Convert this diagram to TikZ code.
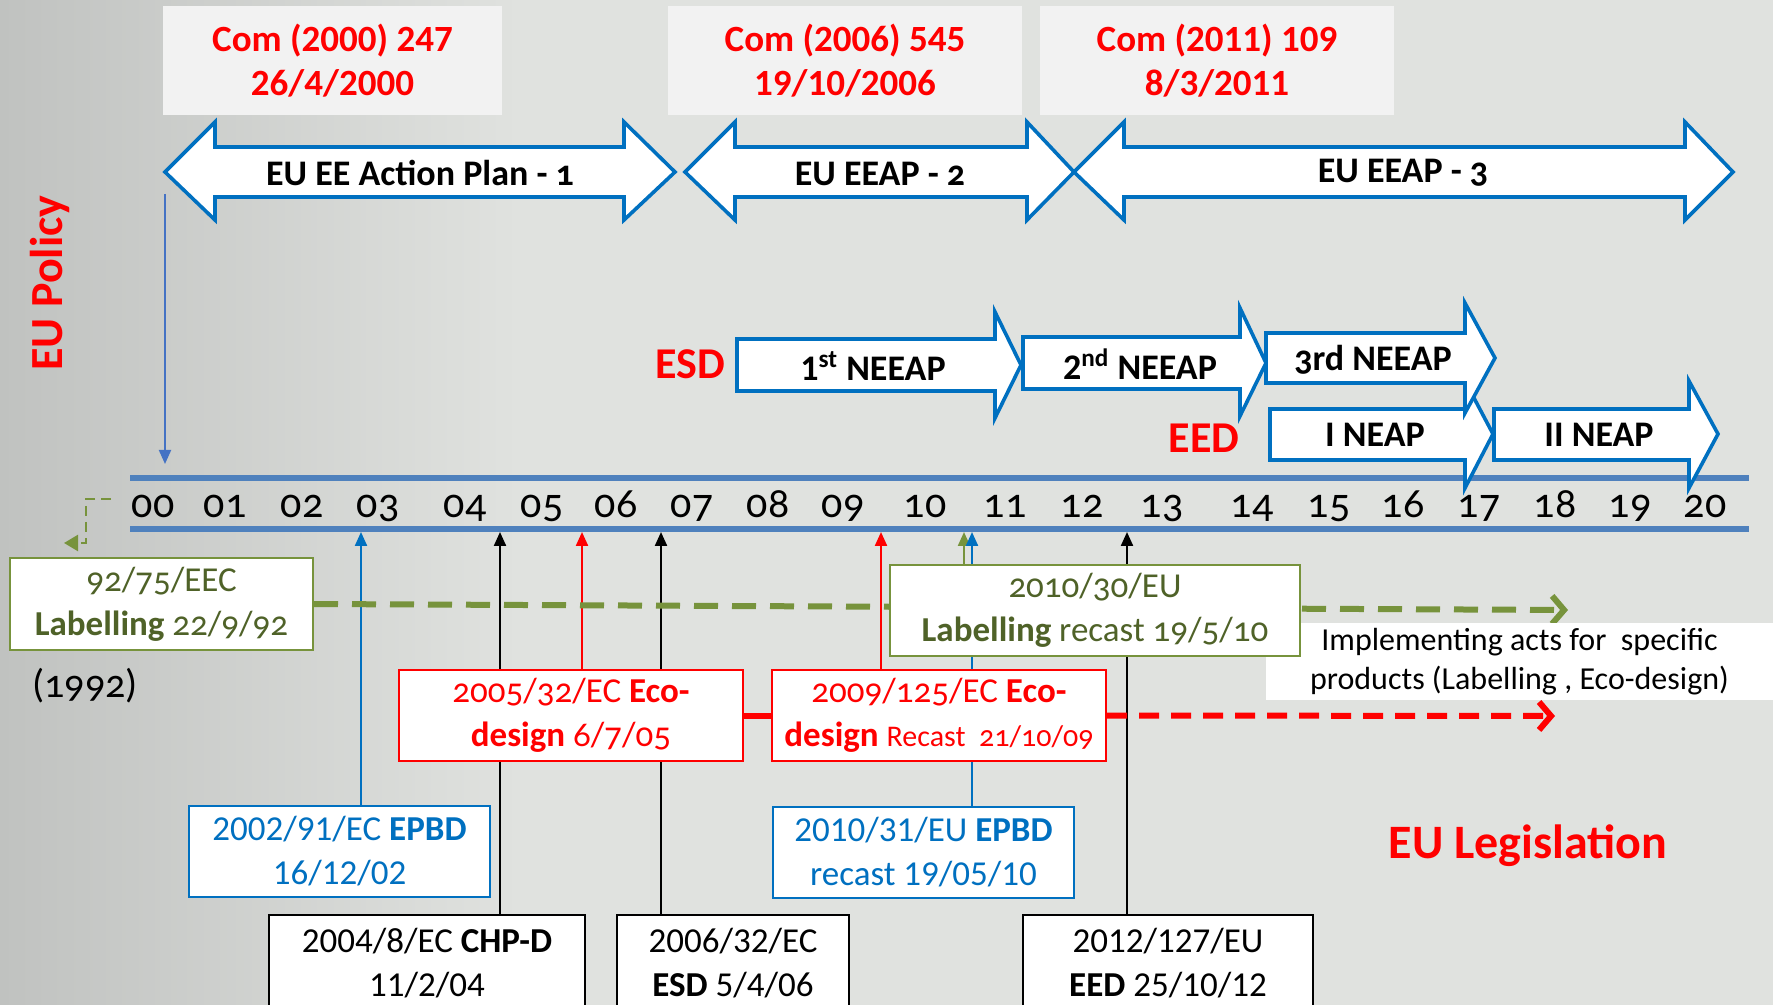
\documentclass[tikz,border=0pt]{standalone}
\usepackage{fontspec}
\setmainfont{Carlito}
\newfontfamily\osf{Carlito}[Numbers=OldStyle]
\usetikzlibrary{arrows.meta}
\definecolor{arrblue}{RGB}{0,112,192}
\definecolor{tlblue}{RGB}{79,129,189}
\definecolor{downblue}{RGB}{68,114,196}
\definecolor{olivel}{RGB}{119,147,60}
\definecolor{olivet}{RGB}{79,98,40}
\definecolor{boxgray}{RGB}{242,242,242}
\definecolor{bgA}{RGB}{192,194,192}
\definecolor{bgB}{RGB}{224,226,223}
\definecolor{redc}{RGB}{255,0,0}
\pgfdeclarelayer{back}
\pgfdeclarelayer{lines}
\pgfsetlayers{back,lines,main}
\begin{document}
\begin{tikzpicture}[x=0.5pt,y=-0.5pt,
  topbox/.style={fill=boxgray,draw=none,inner sep=0pt,minimum height=54.5pt,align=center,text=redc,font=\bfseries\fontsize{18.5}{22}\selectfont},
  lawbox/.style={fill=white,line width=1pt,inner sep=0pt,minimum height=45.5pt,align=center,font=\fontsize{17.5}{22}\selectfont},
  greenbox/.style={lawbox,draw=olivel,text=olivet,font=\osf\fontsize{17.5}{22}\selectfont},
  redbox/.style={lawbox,draw=redc,text=redc,font=\osf\fontsize{17.5}{22}\selectfont},
  bluebox/.style={lawbox,draw=arrblue,text=arrblue},
  blackbox/.style={lawbox,draw=black,text=black,minimum height=48.5pt},
  bigarrow/.style={draw=arrblue,fill=white,line width=1.8pt,line join=miter},
  arrlabel/.style={inner sep=0pt,font=\bfseries\fontsize{18}{20}\selectfont},
  year/.style={anchor=base,inner sep=0pt,font=\osf\fontsize{21}{24}\selectfont},
  conn/.style={line width=1.1pt,-{Triangle[length=7pt,width=6pt]}},
  redlabel/.style={inner sep=0pt,text=redc,font=\bfseries\fontsize{22}{24}\selectfont},
  tline/.style={draw=tlblue,line width=3pt}
]
\useasboundingbox (0,0) rectangle (1773,1005);
% background
\begin{pgfonlayer}{back}
\fill[bgB] (0,0) rectangle (1773,1005);
\shade[left color=bgA,right color=bgB] (0,0) rectangle (520,1005);
\end{pgfonlayer}

% top boxes
\node[topbox,minimum width=169.5pt] (com1) at (332.5,60.5) {Com (2000) 247\\26/4/2000};
\node[topbox,minimum width=177pt] (com2) at (845,60.5) {Com (2006) 545\\19/10/2006};
\node[topbox,minimum width=177pt] (com3) at (1217,60.5) {Com (2011) 109\\8/3/2011};

% double arrows
\draw[bigarrow] (165,172) -- (215,122) -- (215,147) -- (624,147) -- (624,122) -- (675,172) -- (624,220) -- (624,197) -- (215,197) -- (215,220) -- cycle;
\draw[bigarrow] (685,172) -- (735,122) -- (735,147) -- (1027,147) -- (1027,122) -- (1074,172) -- (1027,220) -- (1027,197) -- (735,197) -- (735,220) -- cycle;
\draw[bigarrow] (1074,172) -- (1124,122) -- (1124,147) -- (1685,147) -- (1685,122) -- (1733,172) -- (1685,220) -- (1685,197) -- (1124,197) -- (1124,220) -- cycle;
\node[arrlabel] (ap1) at (420,173) {EU EE Action Plan - {\osf 1}};
\node[arrlabel] (ap2) at (880,174) {EU EEAP - {\osf 2}};
\node[arrlabel] (ap3) at (1403,173) {EU EEAP - {\osf 3}};

% EU Policy
\node[redlabel,rotate=90,font=\bfseries\fontsize{23}{24}\selectfont] (pol) at (50,283) {EU Policy};
\coordinate (dtop) at (165,194);
\coordinate (dbot) at (165,464);
\draw[downblue,line width=1pt,-{Triangle[length=7pt,width=6pt]}] (dtop) -- (dbot);

% timeline
\coordinate (tlA1) at (130,478); \coordinate (tlA2) at (1749,478);
\coordinate (tlB1) at (130,529); \coordinate (tlB2) at (1749,529);
\draw[tline] (tlA1) -- (tlA2);
\draw[tline] (tlB1) -- (tlB2);
\foreach \lab/\xx in {00/153,01/225,02/302,03/378,04/465,05/542,06/616,07/692,08/768,09/843,10/925,11/1005,12/1082,13/1162,14/1252,15/1329,16/1403,17/1479,18/1555,19/1630,20/1705}
  \node[year] (y\lab) at (\xx,517) {\lab};

% ESD / EED arrows
\node[redlabel] (esd) at (690,364) {ESD};
\node[redlabel] (eed) at (1204,438) {EED};
\draw[bigarrow] (737,339) -- (995,339) -- (995,312) -- (1021,365) -- (995,418) -- (995,391) -- (737,391) -- cycle;
\draw[bigarrow] (1023,337) -- (1240,337) -- (1240,308) -- (1266,363) -- (1240,416) -- (1240,389) -- (1023,389) -- cycle;
\draw[bigarrow] (1270,409) -- (1465,409) -- (1465,381) -- (1493,434) -- (1465,488) -- (1465,460) -- (1270,460) -- cycle;
\draw[bigarrow] (1266,333) -- (1465,333) -- (1465,303) -- (1495,358) -- (1465,413) -- (1465,383) -- (1266,383) -- cycle;
\draw[bigarrow] (1494,409) -- (1689,409) -- (1689,381) -- (1718,434) -- (1689,488) -- (1689,460) -- (1494,460) -- cycle;
\node[arrlabel] (n1) at (873,366) {1\textsuperscript{st} NEEAP};
\node[arrlabel] (n2) at (1140,364) {2\textsuperscript{nd} NEEAP};
\node[arrlabel] (n3) at (1373,360) {{\osf 3}rd NEEAP};
\node[arrlabel] (n4) at (1375,435) {I NEAP};
\node[arrlabel] (n5) at (1599,435) {II NEAP};

% green dashed L to the left
\coordinate (gl0) at (111,499);
\coordinate (gl1) at (86,499);
\coordinate (gl2) at (86,543);
\coordinate (gl3) at (64,543);
\draw[olivel,line width=1.2pt,dash pattern=on 5pt off 3pt,-{Triangle[length=7pt,width=8pt]}] (gl0) -- (gl1) -- (gl2) -- (gl3);

% note box (under the green box)
\node[fill=white,inner sep=0pt,minimum width=253.5pt,minimum height=38.5pt,align=center,font=\fontsize{16}{19.5}\selectfont] (impl) at (1519.5,661.5) {Implementing acts for\ \ specific\\products (Labelling , Eco-design)};

% boxes
\node[greenbox,minimum width=151.5pt] (lab1) at (161.5,604) {92/75/EEC\\\textbf{Labelling} 22/9/92};
\node[greenbox,minimum width=205pt] (lab2) at (1095,610.5) {2010/30/EU\\\textbf{Labelling} recast 19/5/10};
\node[redbox,minimum width=172pt] (eco1) at (571,715.5) {2005/32/EC \textbf{Eco-}\\\textbf{design} 6/7/05};
\node[redbox,minimum width=167pt] (eco2) at (939,715.5) {2009/125/EC \textbf{Eco-}\\\textbf{design} {\fontsize{15}{22}\selectfont Recast\ \ 21/10/09}};
\node[bluebox,minimum width=150.5pt] (ep1) at (339.5,851.5) {2002/91/EC \textbf{EPBD}\\16/12/02};
\node[bluebox,minimum width=150.5pt] (ep2) at (923.5,852.5) {2010/31/EU \textbf{EPBD}\\recast 19/05/10};
\node[blackbox,minimum width=158pt] (chp) at (427,963.5) {2004/8/EC \textbf{CHP-D}\\11/2/04};
\node[blackbox,minimum width=116pt] (esdd) at (733,963.5) {2006/32/EC\\\textbf{ESD} 5/4/06};
\node[blackbox,minimum width=145pt] (eedd) at (1168,963.5) {2012/127/EU\\\textbf{EED} 25/10/12};

\node[inner sep=0pt,font=\osf\fontsize{20}{24}\selectfont] (y1992) at (85,686) {(1992)};
\node[redlabel,font=\bfseries\fontsize{24}{26}\selectfont] (leg) at (1528,846) {EU Legislation};

% connectors, under the boxes
\coordinate (t03) at (361,532);
\coordinate (t04) at (500,532);
\coordinate (t05) at (582,532);
\coordinate (t06) at (661,532);
\coordinate (t09) at (881,532);
\coordinate (t10g) at (964,532);
\coordinate (t10b) at (972,532);
\coordinate (t12) at (1127,532);
\coordinate (gend) at (1568,610);
\coordinate (rend) at (1555,716);
\begin{pgfonlayer}{lines}
\draw[conn,arrblue] (t03 |- ep1.north) -- (t03);
\draw[conn,black] (t04 |- chp.north) -- (t04);
\draw[conn,redc] (t05 |- eco1.north) -- (t05);
\draw[conn,black] (t06 |- esdd.north) -- (t06);
\draw[conn,redc] (t09 |- eco2.north) -- (t09);
\draw[conn,olivel] (t10g |- lab2.north) -- (t10g);
\draw[conn,arrblue] (t10b |- ep2.north) -- (t10b);
\draw[conn,black] (t12 |- eedd.north) -- (t12);
\draw[olivel,line width=3pt,dash pattern=on 12pt off 7pt,-{Straight Barb[length=6pt,width=14pt]}] (lab1.east) -- (gend);
\draw[redc,line width=3pt,dash pattern=on 10pt off 6pt,-{Straight Barb[length=6pt,width=14pt]}] (eco2.east) -- (rend);
\draw[redc,line width=3pt] (eco1.east) -- (eco2.west);
\end{pgfonlayer}
\end{tikzpicture}
\end{document}
